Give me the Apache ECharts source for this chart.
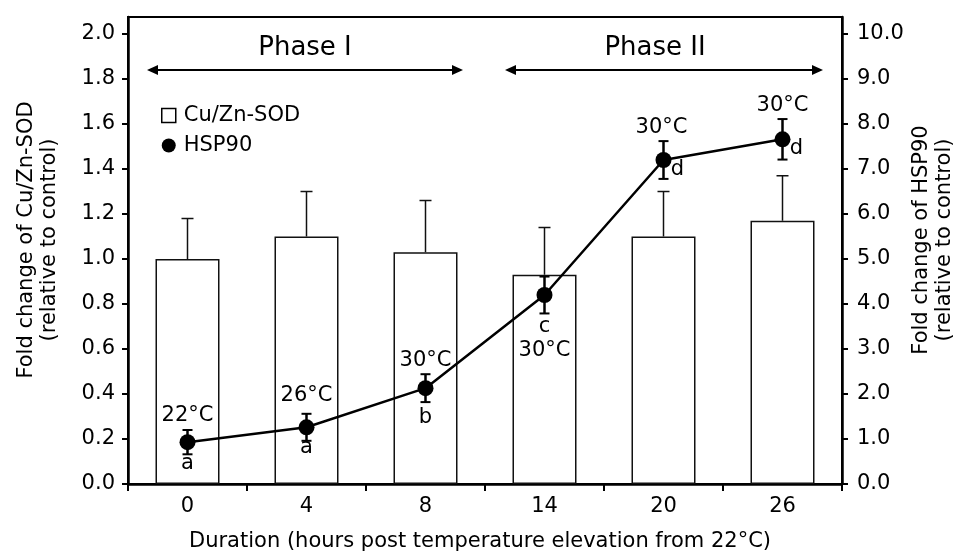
<!DOCTYPE html>
<html>
<head>
<meta charset="utf-8">
<script src="https://cdn.jsdelivr.net/npm/echarts@6/dist/echarts.min.js"></script>
<style>
html,body{margin:0;padding:0;background:#fff;}
#chart{width:958px;height:553px;}
</style>
</head>
<body>
<div id="chart"></div>
<script>
// ---- data ----
const categories = ['0', '4', '8', '14', '20', '26'];
const sodValues = [1.00, 1.10, 1.03, 0.93, 1.10, 1.17];
const sodErrors = [0.18, 0.20, 0.23, 0.21, 0.20, 0.20];
const hspValues = [0.93, 1.26, 2.13, 4.20, 7.20, 7.66];
const hspErrors = [0.27, 0.30, 0.31, 0.41, 0.42, 0.45];
const tempLabels = ['22°C', '26°C', '30°C', '30°C', '30°C', '30°C'];
const sigLetters = ['a', 'a', 'b', 'c', 'd', 'd'];
const leftTicks = [0, 0.2, 0.4, 0.6, 0.8, 1.0, 1.2, 1.4, 1.6, 1.8, 2.0];
const rightTicks = [0, 1, 2, 3, 4, 5, 6, 7, 8, 9, 10];
const xTitle = 'Duration (hours post temperature elevation from 22°C)';
const leftTitle = 'Fold change of Cu/Zn-SOD\n(relative to control)';
const rightTitle = 'Fold change of HSP90\n(relative to control)';
const phaseNames = ['Phase I', 'Phase II'];

// ---- layout (pixel offsets of annotations relative to each point) ----
const tempOffset = [[0, -27], [0, -32], [0, -28], [0, 56], [-2, -32], [0, -34]];
const letterOffset = [[0, 21], [0, 20], [0, 29], [0, 32], [14, 10], [14, 9]];

const FONT = 'DejaVu Sans, Verdana, sans-serif';
const FS = 21;
const LEFT_MAX = 2.0756;
const RIGHT_MAX = LEFT_MAX * 5;

const chart = echarts.init(document.getElementById('chart'), null, {renderer: 'canvas'});

function arrow(x1, x2, y) {
  const hl = 11, hw = 5;
  return [
    {type: 'line', shape: {x1: x1 + hl - 1, y1: y, x2: x2 - hl + 1, y2: y}, style: {stroke: '#000', lineWidth: 2}},
    {type: 'polygon', shape: {points: [[x1, y], [x1 + hl, y - hw], [x1 + hl, y + hw]]}, style: {fill: '#000'}},
    {type: 'polygon', shape: {points: [[x2, y], [x2 - hl, y - hw], [x2 - hl, y + hw]]}, style: {fill: '#000'}}
  ];
}

const option = {
  animation: false,
  backgroundColor: '#fff',
  textStyle: {fontFamily: FONT, color: '#000'},
  grid: {left: 128, right: 116, top: 17, bottom: 69, show: true, borderColor: '#000', borderWidth: 2, backgroundColor: 'transparent'},
  legend: {
    orient: 'vertical', left: 161, top: 105, padding: 0, itemWidth: 14, itemHeight: 14, itemGap: 9,
    textStyle: {fontSize: FS, fontFamily: FONT, color: '#000', padding: [0, 0, 0, 3]},
    data: [
      {name: 'Cu/Zn-SOD', icon: 'rect', itemStyle: {color: '#fff', borderColor: '#000', borderWidth: 1.5}},
      {name: 'HSP90', icon: 'circle', itemStyle: {color: '#000'}}
    ]
  },
  xAxis: {
    type: 'category', data: categories, boundaryGap: true,
    axisLine: {lineStyle: {color: '#000', width: 2.5}},
    axisTick: {show: true, length: 7, lineStyle: {color: '#000', width: 2}},
    axisLabel: {fontSize: FS, color: '#000', margin: 12, fontFamily: FONT},
    splitLine: {show: false}
  },
  yAxis: [
    {
      type: 'value', min: 0, max: LEFT_MAX, position: 'left',
      axisLine: {show: true, lineStyle: {color: '#000', width: 2.5}},
      axisTick: {show: true, length: 6, lineStyle: {color: '#000', width: 2}, customValues: leftTicks},
      axisLabel: {fontSize: FS, color: '#000', margin: 13, fontFamily: FONT, customValues: leftTicks, formatter: v => v.toFixed(1)},
      splitLine: {show: false}
    },
    {
      type: 'value', min: 0, max: RIGHT_MAX, position: 'right',
      axisLine: {show: true, lineStyle: {color: '#000', width: 2.5}},
      axisTick: {show: true, length: 6, lineStyle: {color: '#000', width: 2}, customValues: rightTicks},
      axisLabel: {fontSize: FS, color: '#000', margin: 15, fontFamily: FONT, customValues: rightTicks, formatter: v => v.toFixed(1)},
      splitLine: {show: false}
    }
  ],
  graphic: [
    {type: 'text', x: 38, y: 240, rotation: Math.PI / 2, style: {text: leftTitle, align: 'center', verticalAlign: 'middle', fontSize: FS, fontFamily: FONT, fill: '#000', lineHeight: 23}},
    {type: 'text', x: 933, y: 240, rotation: Math.PI / 2, style: {text: rightTitle, align: 'center', verticalAlign: 'middle', fontSize: FS, fontFamily: FONT, fill: '#000', lineHeight: 23}},
    {type: 'text', x: 480, y: 542, style: {text: xTitle, align: 'center', verticalAlign: 'middle', fontSize: FS, fontFamily: FONT, fill: '#000'}},
    {type: 'text', x: 305, y: 48, style: {text: phaseNames[0], align: 'center', verticalAlign: 'middle', fontSize: 26, fontFamily: FONT, fill: '#000'}},
    {type: 'text', x: 655, y: 48, style: {text: phaseNames[1], align: 'center', verticalAlign: 'middle', fontSize: 26, fontFamily: FONT, fill: '#000'}},
    ...arrow(147, 463, 70),
    ...arrow(505, 823, 70)
  ],
  series: [
    {
      name: 'Cu/Zn-SOD', type: 'bar', data: sodValues, barWidth: 64, yAxisIndex: 0, z: 2,
      itemStyle: {color: '#fff', borderColor: '#111', borderWidth: 1.5}
    },
    {
      name: 'sodErr', type: 'custom', yAxisIndex: 0, z: 3, silent: true,
      data: sodValues.map((v, i) => [i, v, v + sodErrors[i]]),
      renderItem: function (params, api) {
        const base = api.coord([api.value(0), api.value(1)]);
        const top = api.coord([api.value(0), api.value(2)]);
        const cw = 6;
        return {type: 'group', children: [
          {type: 'line', shape: {x1: base[0], y1: base[1], x2: top[0], y2: top[1]}, style: {stroke: '#111', lineWidth: 1.5}},
          {type: 'line', shape: {x1: top[0] - cw, y1: top[1], x2: top[0] + cw, y2: top[1]}, style: {stroke: '#111', lineWidth: 1.5}}
        ]};
      }
    },
    {
      name: 'hspErr', type: 'custom', yAxisIndex: 1, z: 4, silent: true,
      data: hspValues.map((v, i) => [i, v - hspErrors[i], v + hspErrors[i]]),
      renderItem: function (params, api) {
        const lo = api.coord([api.value(0), api.value(1)]);
        const hi = api.coord([api.value(0), api.value(2)]);
        const cw = 5;
        return {type: 'group', children: [
          {type: 'line', shape: {x1: lo[0], y1: lo[1], x2: hi[0], y2: hi[1]}, style: {stroke: '#000', lineWidth: 2.5}},
          {type: 'line', shape: {x1: hi[0] - cw, y1: hi[1], x2: hi[0] + cw, y2: hi[1]}, style: {stroke: '#000', lineWidth: 2}},
          {type: 'line', shape: {x1: lo[0] - cw, y1: lo[1], x2: lo[0] + cw, y2: lo[1]}, style: {stroke: '#000', lineWidth: 2}}
        ]};
      }
    },
    {
      name: 'HSP90', type: 'line', data: hspValues, yAxisIndex: 1, z: 5, smooth: false,
      symbol: 'circle', symbolSize: 16, showSymbol: true,
      lineStyle: {color: '#000', width: 2.5}, itemStyle: {color: '#000'}
    },
    {
      name: 'labels', type: 'custom', yAxisIndex: 1, z: 6, silent: true,
      data: hspValues.map((v, i) => [i, v]),
      renderItem: function (params, api) {
        const i = params.dataIndex;
        const p = api.coord([api.value(0), api.value(1)]);
        const t = tempOffset[i], l = letterOffset[i];
        return {type: 'group', children: [
          {type: 'text', style: {text: tempLabels[i], x: p[0] + t[0], y: p[1] + t[1], align: 'center', verticalAlign: 'middle', fontSize: FS, fontFamily: FONT, fill: '#000'}},
          {type: 'text', style: {text: sigLetters[i], x: p[0] + l[0], y: p[1] + l[1], align: 'center', verticalAlign: 'middle', fontSize: FS, fontFamily: FONT, fill: '#000'}}
        ]};
      }
    }
  ]
};
chart.setOption(option);
</script>
</body>
</html>
